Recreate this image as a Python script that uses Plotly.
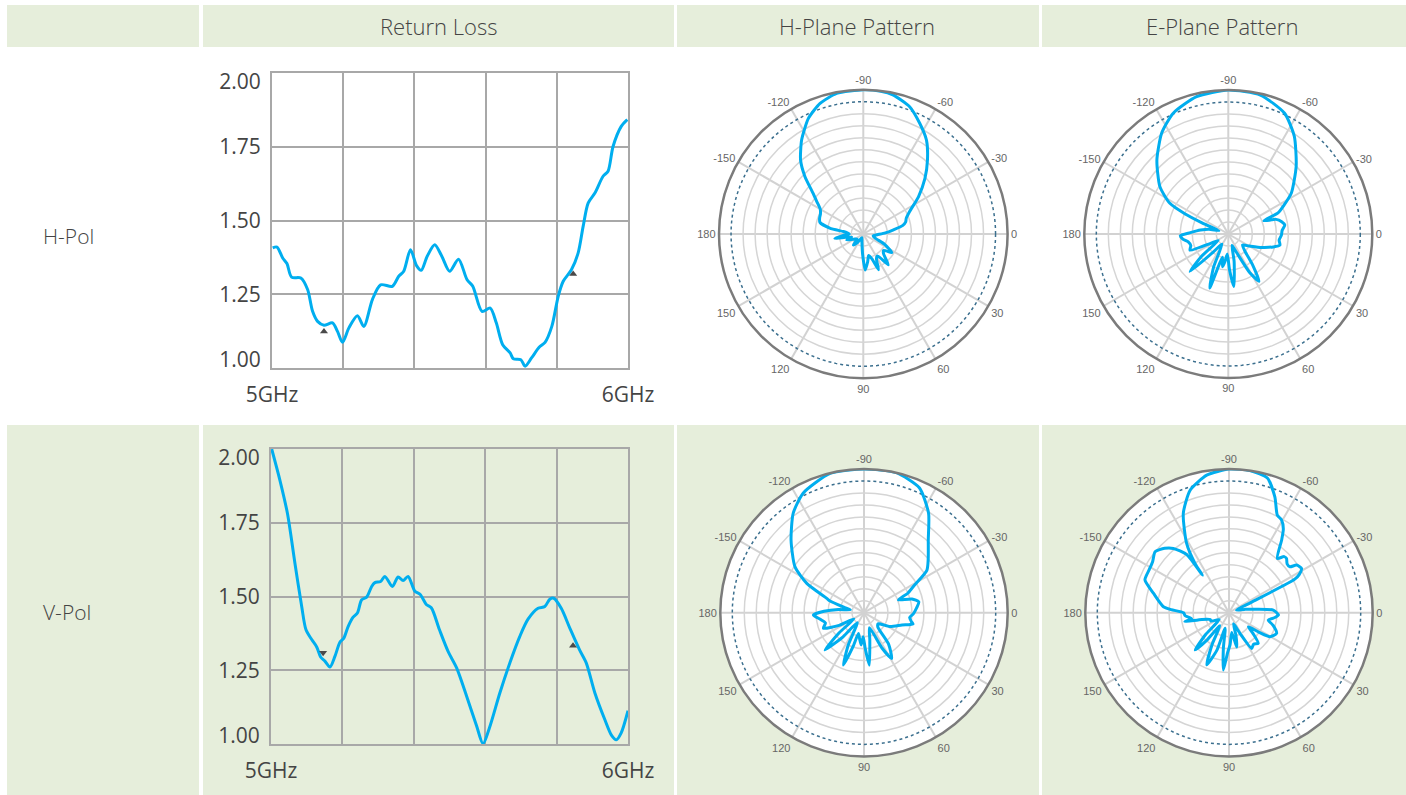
import plotly.graph_objects as go

W, H = 1406, 795

# ---------------- data ----------------
headers = ["Return Loss", "H-Plane Pattern", "E-Plane Pattern"]
row_labels = ["H-Pol", "V-Pol"]

rl_ticks = [5.0, 5.2, 5.4, 5.6, 5.8, 6.0]
rl_ticktext = ["5GHz", "", "", "", "", "6GHz"]
vswr_grid = [1.25, 1.5, 1.75]
# end labels sit just inside the frame, as in the reference
vswr_ticks = [1.027, 1.25, 1.5, 1.75, 1.97]
vswr_ticktext = ["1.00", "1.25", "1.50", "1.75", "2.00"]

rl_h_freq = [5.002, 5.014, 5.030, 5.042, 5.055, 5.081, 5.100, 5.114, 5.128, 5.146, 5.170,
             5.184, 5.198, 5.216, 5.240, 5.258, 5.282, 5.305, 5.338, 5.356, 5.370, 5.389,
             5.406, 5.419, 5.436, 5.457, 5.477, 5.499, 5.524, 5.548, 5.564, 5.590, 5.613,
             5.630, 5.648, 5.669, 5.678, 5.699, 5.711, 5.729, 5.751, 5.767, 5.786, 5.804,
             5.818, 5.841, 5.860, 5.874, 5.888, 5.907, 5.930, 5.944, 5.958, 5.981, 5.998]
rl_h_vswr = [1.407, 1.410, 1.373, 1.354, 1.308, 1.305, 1.266, 1.192, 1.158, 1.145, 1.153,
             1.124, 1.087, 1.136, 1.177, 1.141, 1.232, 1.282, 1.277, 1.311, 1.328, 1.401,
             1.347, 1.331, 1.379, 1.418, 1.379, 1.328, 1.369, 1.299, 1.277, 1.192, 1.203,
             1.153, 1.079, 1.051, 1.031, 1.028, 1.006, 1.034, 1.071, 1.087, 1.141, 1.243,
             1.294, 1.333, 1.390, 1.480, 1.559, 1.593, 1.650, 1.667, 1.751, 1.819, 1.842]

rl_v_freq = [5.002, 5.025, 5.046, 5.067, 5.086, 5.098, 5.114, 5.128, 5.139, 5.151, 5.165,
             5.179, 5.193, 5.204, 5.216, 5.230, 5.242, 5.254, 5.268, 5.282, 5.291, 5.307,
             5.319, 5.340, 5.356, 5.370, 5.384, 5.403, 5.418, 5.435, 5.449, 5.472, 5.496,
             5.520, 5.548, 5.576, 5.594, 5.612, 5.641, 5.669, 5.697, 5.720, 5.748, 5.767,
             5.781, 5.792, 5.813, 5.837, 5.864, 5.883, 5.907, 5.935, 5.954, 5.967, 5.981, 6.000]
rl_v_vswr = [2.000, 1.894, 1.782, 1.613, 1.466, 1.387, 1.354, 1.329, 1.295, 1.281, 1.261,
             1.297, 1.345, 1.359, 1.398, 1.430, 1.444, 1.489, 1.498, 1.534, 1.547, 1.551,
             1.568, 1.534, 1.566, 1.554, 1.568, 1.518, 1.507, 1.473, 1.462, 1.387, 1.314,
             1.258, 1.162, 1.061, 1.001, 1.055, 1.173, 1.275, 1.365, 1.423, 1.460, 1.466,
             1.491, 1.494, 1.460, 1.393, 1.320, 1.275, 1.174, 1.083, 1.029, 1.014, 1.038, 1.113]

mk_h_freq = [5.146, 5.846]
mk_h_vswr = [1.124, 1.319]
mk_h_sym = ["triangle-up", "triangle-up"]
mk_v_freq = [5.146, 5.846]
mk_v_vswr = [1.309, 1.333]
mk_v_sym = ["triangle-down", "triangle-up"]

ang_tickvals = [0, 30, 60, 90, 120, 150, 180, 210, 240, 270, 300, 330]
ang_ticktext = ["0", "30", "60", "90", "120", "150", "180", "-150", "-120", "-90", "-60", "-30"]
ring_vals = [-33, -30, -27, -24, -21, -18, -15, -12, -9, -6]
ref_level = -3

# H-Pol, H-plane
hh_theta = [-90, -83, -78, -70, -63, -56, -49, -42, -34, -26, -20, -16, -12, -8, -3, 3, 10, 18,
            26, 33, 39, 44, 51, 57, 62, 67, 71, 76, 81, 87, 92, 100, 112, 124, 132, 140, 150,
            160, 166, 171, 176, 180, -176, -173, -170, -165, -160, -155, -150, -145, -141,
            -135.5, -130.3, -123.3, -115.4, -108.3, -100.7, -90]
hh_db = [0, -0.1, -0.5, -2.2, -5.0, -7.8, -11.6, -15.3, -19.4, -23.1, -24.6, -25.0, -26.0, -28.4,
         -30.5, -32.5, -33.5, -33, -30, -27.5, -29.5, -29, -26.1, -29.5, -29, -26.3, -29.5, -30.5,
         -29, -27, -31, -34, -35, -33.5, -32.3, -34, -33.5, -31.6, -33, -28.8, -31, -32.5, -32,
         -31, -27.5, -24.8, -24.4, -24.2, -23.6, -21.8, -19.9, -15.6, -11.8, -7.97, -4.07,
         -1.66, -0.3, 0]

# H-Pol, E-plane
eh_theta = [-90, -77, -65, -56, -45, -33, -27, -23, -20.5, -17, -13, -9, -4, 1, 7, 12, 16, 22,
            30, 38, 46, 52, 57, 61, 66, 72, 78, 84, 88, 93, 97, 100, 104, 109, 114, 122, 130,
            135.5, 140, 147, 152, 157, 163, 169, 174, 178, -178, -172, -166, -160, -157, -155,
            -152.3, -145.3, -134, -123.5, -114.5, -103, -90]
eh_db = [0, -0.35, -2.7, -6.5, -12, -17.2, -20.5, -22.5, -26.5, -23.5, -22.3, -21.7, -22.5,
         -22.7, -23.2, -22.8, -24.3, -27, -30, -31.5, -30, -26, -21.9, -25, -31, -33, -29,
         -22.8, -27, -31, -29, -27.7, -30, -21.7, -27, -33, -30, -22.6, -27, -33, -31, -25.6,
         -26.2, -25.8, -24.5, -24, -26.5, -29, -31, -33.5, -29, -24, -19.5, -15.2, -10.3,
         -5.8, -2.8, -0.75, 0]

# V-Pol, H-plane
hv_theta = [-90, -77, -66, -57, -48.5, -40, -34, -28, -24, -20.3, -16, -11, -5, 1, 6, 10.7,
            13, 18, 28, 38, 46, 52, 58.8, 63, 70, 78, 84.2, 88, 92, 95, 100, 105, 108, 111.5,
            116, 124, 131, 136.3, 141, 148, 153, 159, 165, 171, 177.4, -178, -173, -168, -165,
            -161, -159, -152.9, -146.3, -135.1, -125.4, -117, -103.7, -90]
hv_db = [0, 0, -1.8, -6.3, -11.7, -15, -17, -22, -24, -26.8, -23.5, -22, -22.8, -23.6, -24.5,
         -23.9, -23.4, -26, -28.6, -31.5, -31, -26, -22.6, -26, -32, -29, -22.8, -27, -30,
         -27.9, -29.5, -30.6, -27, -21.9, -27, -33, -28, -22.5, -28, -33, -29, -25.1, -26,
         -25, -23.3, -26, -29.5, -32.5, -31, -27, -26, -19.9, -15.2, -10.2, -5.4, -2.4,
         -0.1, 0]

# V-Pol, E-plane
ev_theta = [-90, -81.7, -74.1, -68.4, -63.7, -60.4, -57, -54.1, -48.3, -45.5, -43.3, -40, -37,
            -35.2, -31.4, -28.5, -27, -25, -20, -12, -3.4, 2.7, 7, 10.6, 16, 23.4, 30.3, 33,
            35.9, 41, 46.3, 52, 57.6, 62, 68, 73, 77.3, 82, 88, 92, 95.6, 99, 104, 108, 113.1,
            118, 125, 129, 132.3, 137, 145, 155, 160, 166, 168.5, 171, 176, 180, -177, -174.8,
            -165.7, -158.7, -152, -146.3, -140.5, -135, -130.9, -126, -125.3, -124.6, -121.4,
            -114.7, -107.6, -99.2, -90]
ev_db = [0, 0, -0.9, -4.8, -8.7, -9.3, -11, -13.5, -17.8, -16.3, -16.2, -17, -16.9, -15.3,
         -14.7, -16, -17.5, -30, -34, -32, -24.9, -23.6, -24.8, -26, -24.5, -23, -24.1, -27,
         -30, -28, -25.4, -26, -25.4, -30, -33, -30, -27.2, -31, -28, -26, -21.6, -27, -32,
         -26, -21.8, -27, -32, -27, -23.4, -28, -33, -31, -31, -29, -24.7, -26.5, -25, -24.6,
         -21.5, -19.5, -16.5, -13.4, -13.3, -13, -12, -13.2, -14.7, -18, -24.5, -21, -15.6,
         -8.6, -3.8, -1.1, 0]

# ---------------- styling constants ----------------
GREEN = "#e6eedb"
LINE = "#00aeef"
TXT = "#444444"
GRID = "#a8a8a8"
FONT = "Open Sans, Lato, sans-serif"

def px_x(v):
    return v / W

def px_y(v):
    return 1 - v / H

fig = go.Figure()

# background cells
cells_x = [(7, 199), (203, 674), (677, 1039), (1042, 1406)]
shapes = []
for (x0, x1) in cells_x:
    shapes.append(dict(type="rect", xref="paper", yref="paper", x0=px_x(x0), x1=px_x(x1),
                       y0=px_y(47), y1=px_y(5), fillcolor=GREEN, line_width=0, layer="below"))
    shapes.append(dict(type="rect", xref="paper", yref="paper", x0=px_x(x0), x1=px_x(x1),
                       y0=px_y(795), y1=px_y(425), fillcolor=GREEN, line_width=0, layer="below"))

annotations = []
header_cx = [438, 857, 1222]
for txt, cx in zip(headers, header_cx):
    annotations.append(dict(text=txt, x=px_x(cx), y=px_y(26), xref="paper", yref="paper",
                            showarrow=False, xanchor="center", yanchor="middle",
                            font=dict(size=22, color=TXT, family=FONT, weight=300)))
for txt, cy in zip(row_labels, [236, 612]):
    annotations.append(dict(text=txt, x=px_x(41), y=px_y(cy), xref="paper", yref="paper",
                            showarrow=False, xanchor="left", yanchor="middle",
                            font=dict(size=21, color=TXT, family=FONT, weight=300)))

# ---------------- return loss charts ----------------
rl_sets = [
    (rl_h_freq, rl_h_vswr, mk_h_freq, mk_h_vswr, mk_h_sym, "x", "y"),
    (rl_v_freq, rl_v_vswr, mk_v_freq, mk_v_vswr, mk_v_sym, "x2", "y2"),
]
for fx, fy, mx, my, ms, xa, ya in rl_sets:
    fig.add_trace(go.Scatter(x=fx, y=fy, mode="lines", line=dict(color=LINE, width=3, shape="spline", smoothing=0.8),
                             xaxis=xa, yaxis=ya, showlegend=False, hoverinfo="skip", cliponaxis=False))
    fig.add_trace(go.Scatter(x=mx, y=my, mode="markers",
                             marker=dict(symbol=ms, size=7, color="#4a4a4a"),
                             xaxis=xa, yaxis=ya, showlegend=False, hoverinfo="skip"))

rl_domains = [((272, 628), (73, 368)), ((271, 628), (449, 744))]
for i, ((x0, x1), (y0, y1)) in enumerate(rl_domains):
    xk = "xaxis" if i == 0 else "xaxis2"
    yk = "yaxis" if i == 0 else "yaxis2"
    fig.layout[xk] = dict(domain=[px_x(x0), px_x(x1)], range=[5, 6], tickvals=rl_ticks,
                          ticktext=rl_ticktext, showgrid=True, gridcolor=GRID, gridwidth=2,
                          showline=True, linecolor=GRID, linewidth=2, mirror=True,
                          zeroline=False, ticks="outside", ticklen=7, tickcolor="rgba(0,0,0,0)",
                          tickfont=dict(size=21, color=TXT, family=FONT), automargin=False,
                          anchor="y" if i == 0 else "y2", fixedrange=True)
    fig.layout[yk] = dict(domain=[px_y(y1), px_y(y0)], range=[1, 2], tickvals=vswr_ticks,
                          ticktext=vswr_ticktext, showgrid=False,
                          minor=dict(tickvals=vswr_grid, showgrid=True, gridcolor=GRID,
                                     gridwidth=2, ticks=""),
                          showline=True, linecolor=GRID, linewidth=2, mirror=True,
                          zeroline=False, ticks="outside", ticklen=5, tickcolor="rgba(0,0,0,0)",
                          tickfont=dict(size=21, color=TXT, family=FONT), automargin=False,
                          anchor="x" if i == 0 else "x2", fixedrange=True)

# ---------------- polar charts ----------------
polar_sets = [
    (hh_theta, hh_db, "polar", (863.3, 234.0, 144.3)),
    (eh_theta, eh_db, "polar2", (1228.3, 234.0, 144.0)),
    (hv_theta, hv_db, "polar3", (864.0, 612.7, 143.7)),
    (ev_theta, ev_db, "polar4", (1229.0, 612.7, 143.7)),
]
ref_theta = list(range(0, 361, 3))
for th, db, pk, (cx, cy, r) in polar_sets:
    fig.add_trace(go.Scatterpolar(r=[ref_level] * len(ref_theta), theta=ref_theta, mode="lines",
                                  line=dict(color="#3b6f8e", width=1.5, dash="dot"),
                                  subplot=pk, showlegend=False, hoverinfo="skip"))
    fig.add_trace(go.Scatterpolar(r=db, theta=th, mode="lines",
                                  line=dict(color=LINE, width=3, shape="spline", smoothing=0.6),
                                  subplot=pk, showlegend=False, hoverinfo="skip"))
    fig.layout[pk] = dict(
        domain=dict(x=[px_x(cx - r), px_x(cx + r)], y=[px_y(cy + r), px_y(cy - r)]),
        bgcolor="white",
        angularaxis=dict(direction="clockwise", rotation=0, tickmode="array",
                         tickvals=ang_tickvals, ticktext=ang_ticktext,
                         showline=True, linecolor="#7b7b7b", linewidth=2.5,
                         gridcolor="#d2d2d2", gridwidth=2, ticks="",
                         tickfont=dict(size=11, color="#666666", family="Arial, Liberation Sans, sans-serif")),
        radialaxis=dict(range=[-36, 0], tickvals=ring_vals, showticklabels=False, ticks="",
                        showline=False, gridcolor="#d5d5d5", gridwidth=1.5),
    )

fig.update_layout(width=W, height=H,
                  margin=dict(l=0, r=0, t=0, b=0, pad=0, autoexpand=False),
                  paper_bgcolor="white", plot_bgcolor="white",
                  shapes=shapes, annotations=annotations, showlegend=False,
                  font=dict(family=FONT, color=TXT))

fig.write_html("out.html", config={"displayModeBar": False, "staticPlot": True},
               post_script="document.body.style.margin='0';document.body.style.overflow='hidden';")
